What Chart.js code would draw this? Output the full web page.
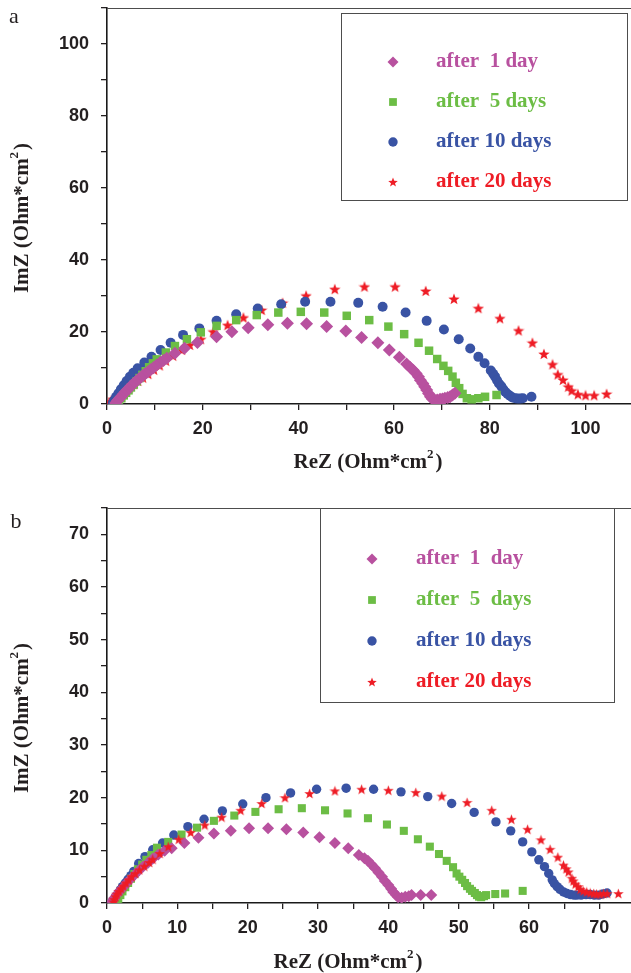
<!DOCTYPE html>
<html>
<head>
<meta charset="utf-8">
<script src="https://cdn.jsdelivr.net/npm/chart.js@4/dist/chart.umd.min.js"></script>
<style>
  html, body { margin: 0; padding: 0; background: #fff; }
  #wrap { position: relative; width: 631px; height: 973px; }
  .panel { position: absolute; left: 0; width: 631px; }
  #pa { top: 0; height: 480px; }
  #pb { top: 480px; height: 493px; }
</style>
</head>
<body>
<div id="wrap">
  <div class="panel" id="pa"><canvas id="chartA"></canvas></div>
  <div class="panel" id="pb"><canvas id="chartB"></canvas></div>
</div>
<script>
// Nyquist data, [ReZ, ImZ] in Ohm*cm2

// panel a
const a_day1 = [[1.8,0.3],[2.2,0.9],[2.6,1.5],[3.0,2.1],[3.4,2.7],[3.8,3.3],[4.2,3.9],[4.6,4.4],[5.0,5.0],[5.4,5.5],[5.9,6.1],[6.4,6.7],[6.9,7.2],[7.4,7.8],[7.9,8.3],[8.5,8.9],[9.1,9.5],[9.7,10.1],[10.4,10.8],[11.1,11.5],[11.8,12.1],[12.5,12.7],[14.2,14.1],[16.2,15.5],[18.9,17.1],[22.9,18.7],[26.1,20.1],[29.5,21.2],[33.6,22.0],[37.7,22.4],[41.7,22.3],[45.9,21.5],[49.9,20.3],[53.2,18.5],[56.6,17.0],[59.0,15.0],[61.1,13.0],[62.6,11.1],[63.3,10.2],[64.0,9.4],[64.6,8.5],[65.1,7.6],[65.5,6.6],[66.0,5.7],[66.4,4.8],[66.8,3.9],[67.2,2.9],[67.6,2.0],[68.0,1.4],[68.5,1.1],[69.0,1.1],[69.6,1.3],[70.1,1.4],[70.6,1.6],[71.2,1.8],[71.7,2.0],[72.2,2.5],[72.7,3.0]];
const a_day5 = [[2.0,0.2],[2.5,0.9],[3.0,1.6],[3.5,2.4],[4.0,3.1],[4.5,3.8],[5.0,4.6],[5.6,5.4],[6.2,6.3],[6.8,7.2],[7.4,8.1],[8.1,9.1],[8.8,10.2],[9.6,11.3],[10.4,12.4],[12.3,14.3],[14.2,16.1],[16.7,18.0],[19.6,19.9],[22.9,21.7],[27.0,23.3],[31.3,24.7],[35.8,25.4],[40.5,25.6],[45.4,25.4],[50.1,24.5],[54.8,23.3],[58.8,21.5],[62.1,19.4],[65.1,17.0],[67.3,14.8],[69.0,12.5],[70.3,10.6],[71.3,9.2],[72.2,7.6],[72.9,5.9],[73.6,4.4],[74.3,2.8],[75.2,1.6],[76.2,1.3],[77.6,1.6],[79.0,2.0],[81.4,2.5]];
const a_day10 = [[1.2,0.3],[1.5,1.0],[1.9,2.0],[2.4,3.0],[2.9,4.1],[3.5,5.2],[4.1,6.4],[4.8,7.6],[5.5,8.7],[6.4,9.9],[7.8,11.5],[9.3,13.1],[11.2,15.0],[13.3,17.0],[15.9,19.2],[19.3,21.0],[22.9,23.1],[27.0,24.9],[31.5,26.5],[36.4,27.7],[41.4,28.4],[46.7,28.4],[52.5,28.1],[57.6,27.0],[62.4,25.4],[66.8,23.1],[70.4,20.7],[73.5,18.0],[75.9,15.4],[77.6,13.1],[78.9,11.3],[80.2,9.3],[80.7,8.4],[81.1,7.6],[81.5,6.6],[81.9,5.7],[82.4,4.9],[82.8,4.1],[83.2,3.4],[83.7,2.8],[84.2,2.3],[84.7,1.8],[85.3,1.6],[85.8,1.5],[86.4,1.5],[86.9,1.6],[88.7,2.0]];
const a_day20 = [[0.5,0.3],[0.9,0.8],[1.3,1.4],[1.9,1.9],[2.5,2.5],[3.2,3.2],[3.9,3.8],[4.7,4.6],[5.6,5.5],[6.5,6.4],[7.5,7.3],[8.6,8.3],[9.8,9.5],[11.0,10.7],[12.3,12.0],[13.8,13.4],[15.6,15.0],[17.3,16.4],[19.6,18.0],[22.2,20.1],[25.2,21.9],[28.5,24.0],[32.3,26.1],[36.7,28.1],[41.6,30.1],[47.6,31.9],[53.8,32.6],[60.2,32.6],[66.6,31.4],[72.5,29.2],[77.6,26.6],[82.1,23.8],[86.0,20.4],[88.9,17.0],[91.3,13.9],[93.1,11.0],[94.2,8.2],[95.3,6.7],[96.4,4.8],[97.1,3.7],[98.4,2.7],[100.0,2.4],[101.8,2.4],[104.4,2.8]];

// panel b
const b_day1 = [[0.7,0.3],[1.0,0.9],[1.4,1.6],[1.8,2.3],[2.3,3.0],[2.8,3.8],[3.3,4.5],[3.9,5.3],[4.5,6.1],[5.1,6.9],[5.8,7.6],[6.5,8.4],[7.3,9.2],[8.2,9.9],[9.2,10.4],[11.0,11.4],[13.0,12.4],[15.2,13.2],[17.6,13.7],[20.2,14.2],[22.9,14.2],[25.5,14.0],[27.9,13.4],[30.2,12.5],[32.4,11.4],[34.3,10.4],[35.8,9.1],[36.6,8.5],[37.1,8.0],[37.6,7.3],[38.1,6.6],[38.6,5.8],[39.1,5.0],[39.5,4.2],[40.0,3.4],[40.4,2.7],[40.7,2.1],[41.1,1.5],[41.4,1.1],[41.9,1.0],[42.4,1.2],[42.9,1.3],[43.3,1.5],[44.6,1.5],[46.1,1.5]];
const b_day5 = [[1.4,0.2],[1.6,0.8],[1.9,1.5],[2.2,2.2],[2.6,3.0],[3.0,3.8],[3.4,4.6],[3.9,5.5],[4.4,6.4],[5.0,7.3],[5.6,8.2],[6.3,9.1],[7.1,10.5],[8.7,11.6],[10.6,13.0],[12.8,14.3],[15.2,15.6],[18.1,16.6],[21.1,17.3],[24.4,17.8],[27.7,18.0],[31.0,17.6],[34.2,17.0],[37.1,16.1],[39.8,14.9],[42.2,13.7],[44.2,12.1],[45.9,10.7],[47.2,9.3],[48.3,8.0],[49.2,6.8],[49.7,5.6],[50.1,5.0],[50.5,4.4],[50.9,3.8],[51.2,3.2],[51.6,2.7],[51.9,2.3],[52.3,1.9],[52.6,1.5],[52.9,1.2],[53.2,1.1],[53.6,1.3],[53.9,1.5],[55.2,1.7],[56.6,1.8],[59.1,2.3]];
const b_day10 = [[0.9,0.2],[1.1,0.7],[1.3,1.3],[1.6,1.9],[1.9,2.5],[2.2,3.1],[2.6,3.8],[3.0,4.5],[3.4,5.2],[3.8,6.0],[4.5,7.5],[5.4,8.8],[6.5,10.1],[7.9,11.4],[9.5,12.9],[11.5,14.5],[13.8,15.9],[16.4,17.5],[19.3,18.8],[22.6,20.0],[26.1,20.9],[29.8,21.6],[34.0,21.8],[37.9,21.6],[41.8,21.1],[45.6,20.2],[49.0,18.9],[52.2,17.2],[55.3,15.4],[57.4,13.7],[59.1,11.6],[60.4,9.7],[61.4,8.2],[62.2,6.9],[62.8,5.6],[63.3,4.4],[63.6,3.7],[64.0,3.1],[64.4,2.6],[64.9,2.1],[65.4,1.8],[65.9,1.6],[66.4,1.5],[66.8,1.5],[67.4,1.5],[68.1,1.6],[68.7,1.6],[69.3,1.5],[69.9,1.5],[70.5,1.7],[71.1,1.9]];
const b_day20 = [[0.9,0.2],[1.0,0.7],[1.2,1.2],[1.4,1.7],[1.7,2.2],[2.0,2.7],[2.3,3.2],[2.7,3.8],[3.1,4.4],[3.5,5.0],[4.0,5.6],[4.6,6.3],[5.3,7.0],[6.0,7.7],[6.5,8.3],[7.5,9.4],[8.7,10.7],[10.2,12.1],[11.9,13.4],[13.9,14.8],[16.3,16.3],[19.0,17.6],[22.0,18.9],[25.3,20.0],[28.8,20.8],[32.4,21.3],[36.2,21.6],[40.0,21.4],[43.9,21.0],[47.6,20.3],[51.2,19.1],[54.7,17.6],[57.5,15.9],[59.8,14.0],[61.7,12.0],[63.0,10.2],[64.1,8.7],[64.9,7.2],[65.3,6.5],[65.6,5.9],[66.1,4.7],[66.3,4.2],[66.6,3.6],[67.0,3.1],[67.3,2.6],[67.7,2.3],[68.2,2.1],[68.7,1.9],[69.2,1.8],[69.6,1.7],[70.1,1.7],[70.6,1.8],[71.1,1.8],[72.7,1.8]];

const labelsA = ['after  1 day', 'after  5 days', 'after 10 days', 'after 20 days'];
const labelsB = ['after  1  day', 'after  5  days', 'after 10 days', 'after 20 days'];

const colors = ['#b8519f', '#6cbd45', '#3953a4', '#ee1c25'];
const TICK_COLOR = '#231f20';
const SERIF = '"Liberation Serif", "Times New Roman", serif';
const SANS = '"Liberation Sans", Arial, sans-serif';

// filled five-point star, used as a point style
function makeStar(size, color) {
    const c = document.createElement('canvas');
    c.width = size;
    c.height = size;
    const g = c.getContext('2d');
    const cx = size / 2, cy = size / 2 + 0.5;
    const ro = size / 2, ri = ro * 0.42;
    g.beginPath();
    for (let i = 0; i < 10; i++) {
        const r = i % 2 ? ri : ro;
        const a = -Math.PI / 2 + i * Math.PI / 5;
        g.lineTo(cx + r * Math.cos(a), cy + r * Math.sin(a));
    }
    g.closePath();
    g.fillStyle = color;
    g.fill();
    return c;
}

function toPoints(arr) {
    return arr.map(p => ({ x: p[0], y: p[1] }));
}

function makeDatasets(series, labels, sizes, starSize) {
    const styles = ['rectRot', 'rect', 'circle', makeStar(starSize, colors[3])];
    return series.map((s, i) => ({
        label: labels[i],
        data: toPoints(s),
        pointStyle: styles[i],
        pointRadius: sizes[i],
        pointBackgroundColor: colors[i],
        pointBorderWidth: 0,
        pointBorderColor: colors[i],
        showLine: false
    }));
}

// "ReZ (Ohm*cm2)" with a raised 2
function unitLabel(ctx, lead, cx, cy, size) {
    const main = lead + ' (Ohm*cm';
    const supSize = Math.round(size * 0.6);
    ctx.font = 'bold ' + size + 'px ' + SERIF;
    const w1 = ctx.measureText(main).width;
    const w3 = ctx.measureText(')').width;
    ctx.font = 'bold ' + supSize + 'px ' + SERIF;
    const w2 = ctx.measureText('2').width + 2;
    let x = cx - (w1 + w2 + w3) / 2;
    ctx.textAlign = 'left';
    ctx.textBaseline = 'middle';
    ctx.font = 'bold ' + size + 'px ' + SERIF;
    ctx.fillText(main, x, cy);
    x += w1;
    ctx.font = 'bold ' + supSize + 'px ' + SERIF;
    ctx.fillText('2', x, cy - size * 0.38);
    x += w2;
    ctx.font = 'bold ' + size + 'px ' + SERIF;
    ctx.fillText(')', x, cy);
}

const decorPlugin = {
    id: 'decor',
    afterDraw(chart, args, opts) {
        const ctx = chart.ctx;
        const ca = chart.chartArea;
        ctx.save();

        // top frame line
        ctx.strokeStyle = '#4d4d4d';
        ctx.lineWidth = 1;
        ctx.beginPath();
        ctx.moveTo(ca.left, ca.top + 0.5);
        ctx.lineTo(chart.width, ca.top + 0.5);
        ctx.stroke();

        // panel letter
        ctx.fillStyle = '#231f20';
        ctx.font = '22px ' + SERIF;
        ctx.textAlign = 'center';
        ctx.textBaseline = 'middle';
        ctx.fillText(opts.letter, opts.letterX, opts.letterY);

        // axis titles
        unitLabel(ctx, 'ReZ', opts.xTitleX, opts.xTitleY, 21);
        ctx.save();
        ctx.translate(opts.yTitleX, opts.yTitleY);
        ctx.rotate(-Math.PI / 2);
        unitLabel(ctx, 'ImZ', 0, 0, 21);
        ctx.restore();

        // legend box
        const lb = opts.legend;
        ctx.strokeStyle = '#4d4d4d';
        ctx.lineWidth = 1;
        ctx.strokeRect(lb.x1 + 0.5, lb.y1 + 0.5, lb.x2 - lb.x1, lb.y2 - lb.y1);
        const styles = ['rectRot', 'rect', 'circle', makeStar(10, colors[3])];
        const radii = [5.5, 5.5, 4.7, 5];
        chart.data.datasets.forEach((ds, i) => {
            const y = lb.rowY + i * lb.rowGap;
            ctx.fillStyle = colors[i];
            ctx.beginPath();
            Chart.helpers.drawPoint(ctx, {
                pointStyle: styles[i], radius: radii[i], rotation: 0, borderWidth: 0
            }, lb.markX, y);
            ctx.font = 'bold 21px ' + SERIF;
            ctx.textAlign = 'left';
            ctx.textBaseline = 'middle';
            ctx.fillText(ds.label, lb.textX, y);
        });
        ctx.restore();
    }
};

function buildOptions(xMax, yMax, xStep, yStep, xMajor, yMajor, padTop, xAxisH, decor) {
    const keepSteps = step => scale => {
        scale.ticks = scale.ticks.filter(t => Math.abs(t.value / step - Math.round(t.value / step)) < 1e-6);
    };
    const tickFont = { family: SANS, size: 18, weight: 'bold' };
    return {
        responsive: true,
        maintainAspectRatio: false,
        animation: false,
        devicePixelRatio: 1,
        layout: {
            autoPadding: false,
            padding: { top: padTop, right: 0, left: 0, bottom: 0 }
        },
        scales: {
            x: {
                type: 'linear',
                min: 0,
                max: xMax,
                afterBuildTicks: keepSteps(xStep),
                afterFit: s => {
                    s.height = xAxisH;
                    s.paddingLeft = 0;
                    s.paddingRight = 0;
                },
                ticks: {
                    stepSize: xStep,
                    includeBounds: false,
                    autoSkip: false,
                    maxRotation: 0,
                    padding: 8,
                    color: TICK_COLOR,
                    font: tickFont,
                    callback: v => (v % xMajor === 0 ? v : '')
                },
                grid: {
                    drawOnChartArea: false,
                    tickLength: 6,
                    color: TICK_COLOR,
                    lineWidth: 1.3
                },
                border: { color: '#1a1a1a', width: 1.6 }
            },
            y: {
                type: 'linear',
                min: 0,
                max: yMax,
                afterBuildTicks: keepSteps(yStep),
                afterFit: s => {
                    s.width = 107;
                    s.paddingTop = 0;
                    s.paddingBottom = 0;
                },
                ticks: {
                    stepSize: yStep,
                    includeBounds: false,
                    autoSkip: false,
                    padding: 12,
                    color: TICK_COLOR,
                    font: tickFont,
                    callback: v => (v % yMajor === 0 ? v : '')
                },
                grid: {
                    drawOnChartArea: false,
                    tickLength: 6,
                    color: TICK_COLOR,
                    lineWidth: 1.3
                },
                border: { color: '#1a1a1a', width: 1.6 }
            }
        },
        plugins: {
            legend: { display: false },
            tooltip: { enabled: false },
            decor: decor
        }
    };
}

let chartA = null;
let chartB = null;

function initializeCharts() {
    if (chartA) chartA.destroy();
    if (chartB) chartB.destroy();

    // Panel a
    const dsA = makeDatasets([a_day1, a_day5, a_day10, a_day20], labelsA, [6.5, 6, 5, 6], 12);
    chartA = new Chart(document.getElementById('chartA'), {
        type: 'scatter',
        data: { datasets: dsA },
        options: buildOptions(109.5, 110, 10, 10, 20, 20, 8, 76, {
            letter: 'a', letterX: 14, letterY: 17,
            xTitleX: 368, xTitleY: 463,
            yTitleX: 23, yTitleY: 218,
            legend: { x1: 341, y1: 13, x2: 627, y2: 200, markX: 393, textX: 436, rowY: 62, rowGap: 40 }
        }),
        plugins: [decorPlugin]
    });

    // Panel b: the 20 day series sits on top
    const dsB = makeDatasets([b_day1, b_day5, b_day10, b_day20], labelsB, [6, 5.7, 4.7, 5.5], 11);
    dsB.forEach((d, i) => { d.order = i === 3 ? 0 : 1; });
    chartB = new Chart(document.getElementById('chartB'), {
        type: 'scatter',
        data: { datasets: dsB },
        options: buildOptions(74.5, 75, 5, 5, 10, 10, 28, 70, {
            letter: 'b', letterX: 16, letterY: 42,
            xTitleX: 348, xTitleY: 483,
            yTitleX: 23, yTitleY: 238,
            legend: { x1: 320, y1: 28, x2: 614, y2: 222, markX: 372, textX: 416, rowY: 79, rowGap: 41 }
        }),
        plugins: [decorPlugin]
    });
}

initializeCharts();
</script>
</body>
</html>
